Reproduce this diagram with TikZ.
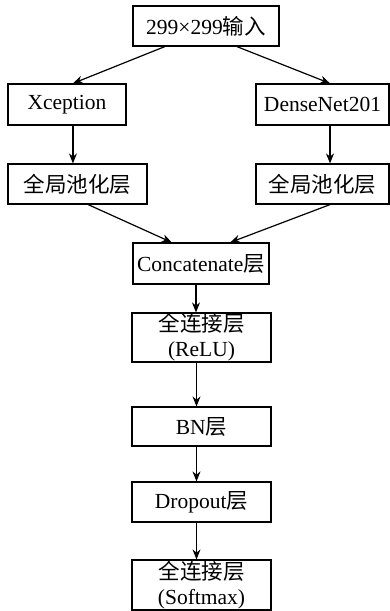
\documentclass[tikz,border=0pt]{standalone}
\usepackage{fontspec}
\setmainfont{Liberation Serif}
\newfontfamily\cjk{Noto Sans CJK SC}
\usetikzlibrary{arrows.meta,calc}
\begin{document}
\begin{tikzpicture}[x=1pt,y=-1pt,
  box/.style={draw,line width=1.2pt,inner sep=0pt,align=center,font=\fontsize{21.5}{25}\selectfont},
  arr/.style={line width=1.2pt,-{Stealth[length=10pt,width=8pt]}}]
\useasboundingbox[fill=white] (0,0) rectangle (390,611);
\node[box,minimum width=146pt,minimum height=40pt] (top) at (206,26) {299×299{\cjk 输入}};
\node[box,minimum width=118pt,minimum height=41pt] (xc) at (67,104.5) {Xception};
\node[box,minimum width=133pt,minimum height=41pt] (dn) at (322.5,104.5) {DenseNet201};
\node[box,minimum width=139pt,minimum height=40pt] (pl) at (77.5,184) {\cjk 全局池化层};
\node[box,minimum width=133pt,minimum height=40pt] (pr) at (322.5,184) {\cjk 全局池化层};
\node[box,minimum width=136pt,minimum height=41pt] (cc) at (201,263.5) {Concatenate{\cjk 层}};
\node[box,minimum width=139pt,minimum height=49pt] (fa) at (201.5,337.5) {{\cjk 全连接层}\\(ReLU)};
\node[box,minimum width=139pt,minimum height=39pt] (bn) at (201.5,426.5) {BN{\cjk 层}};
\node[box,minimum width=139pt,minimum height=40pt] (dr) at (201.5,502) {Dropout{\cjk 层}};
\node[box,minimum width=139pt,minimum height=50pt] (fb) at (201.5,585) {{\cjk 全连接层}\\(Softmax)};
\draw[arr] ($(top.south west)!0.22!(top.south east)$) -- ($(xc.north west)!0.55!(xc.north east)$);
\draw[arr] ($(top.south west)!0.71!(top.south east)$) -- ($(dn.north west)!0.556!(dn.north east)$);
\coordinate (a1) at ($(xc.south west)!0.55!(xc.south east)$);
\draw[arr] (a1) -- (a1 |- pl.north);
\coordinate (a2) at ($(dn.south west)!0.556!(dn.south east)$);
\draw[arr] (a2) -- (a2 |- pr.north);
\draw[arr] ($(pl.south west)!0.576!(pl.south east)$) -- ($(cc.north west)!0.287!(cc.north east)$);
\draw[arr] ($(pr.south west)!0.556!(pr.south east)$) -- ($(cc.north west)!0.713!(cc.north east)$);
\draw[arr] ([xshift=-5pt]cc.south) -- ([xshift=-5pt]cc.south |- fa.north);
\draw[arr] ([xshift=-5pt]fa.south) -- ([xshift=-5pt]bn.north);
\draw[arr] ([xshift=-5pt]bn.south) -- ([xshift=-5pt]dr.north);
\draw[arr] ([xshift=-5pt]dr.south) -- ([xshift=-5pt]fb.north);
\end{tikzpicture}
\end{document}
